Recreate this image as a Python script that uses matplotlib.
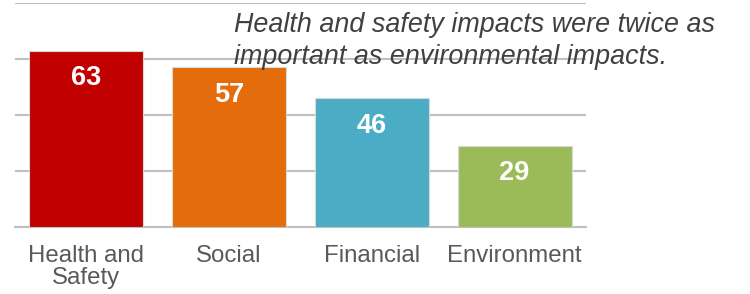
import matplotlib
matplotlib.use('Agg')
import matplotlib.pyplot as plt

# data
categories = ['Health and\nSafety', 'Social', 'Financial', 'Environment']
values = [63, 57, 46, 29]
colors = ['#C00000', '#E46C0A', '#4BACC6', '#9BBB59']
note = 'Health and safety impacts were twice as\nimportant as environmental impacts.'

plt.rcParams['font.family'] = ['Liberation Sans', 'DejaVu Sans']

fig = plt.figure(figsize=(7.5, 2.94), dpi=100)
ax = fig.add_axes([0.02, 0.228, 0.7613, 0.762])

x_pos = list(range(len(categories)))
bars = ax.bar(x_pos, values, width=0.8, color=colors, edgecolor='#D9D9D9', linewidth=0.8, zorder=3)

# value labels inside the bars, white bold
for b, v in zip(bars, values):
    ax.text(b.get_x() + b.get_width() / 2, v - 12.4, str(v), ha='center', va='baseline',
            color='white', fontsize=19.5, fontweight='bold', zorder=4)

ax.set_xlim(-0.5, 3.5)
ax.set_ylim(0, 80)
ax.set_yticks([0, 20, 40, 60, 80])
ax.set_yticklabels([])
ax.yaxis.grid(True, color='#BFBFBF', linewidth=1.5, zorder=0)
ax.set_xticks(x_pos)
ax.set_xticklabels(categories, fontsize=17.3, color='#595959', linespacing=1.02)
ax.tick_params(axis='both', length=0)
ax.tick_params(axis='x', pad=13)
for s in ['top', 'right', 'left']:
    ax.spines[s].set_visible(False)
ax.spines['bottom'].set_color('#BFBFBF')
ax.spines['bottom'].set_linewidth(1.5)

lines = note.split('\n')
fig.text(0.312, 1 - 32 / 294, lines[0], ha='left', va='baseline', fontsize=19.4,
         style='italic', color='#404040', zorder=10)
fig.text(0.312, 1 - 64 / 294, lines[1], ha='left', va='baseline', fontsize=19.4,
         style='italic', color='#404040', zorder=10)

fig.savefig('out.png', dpi=100)
